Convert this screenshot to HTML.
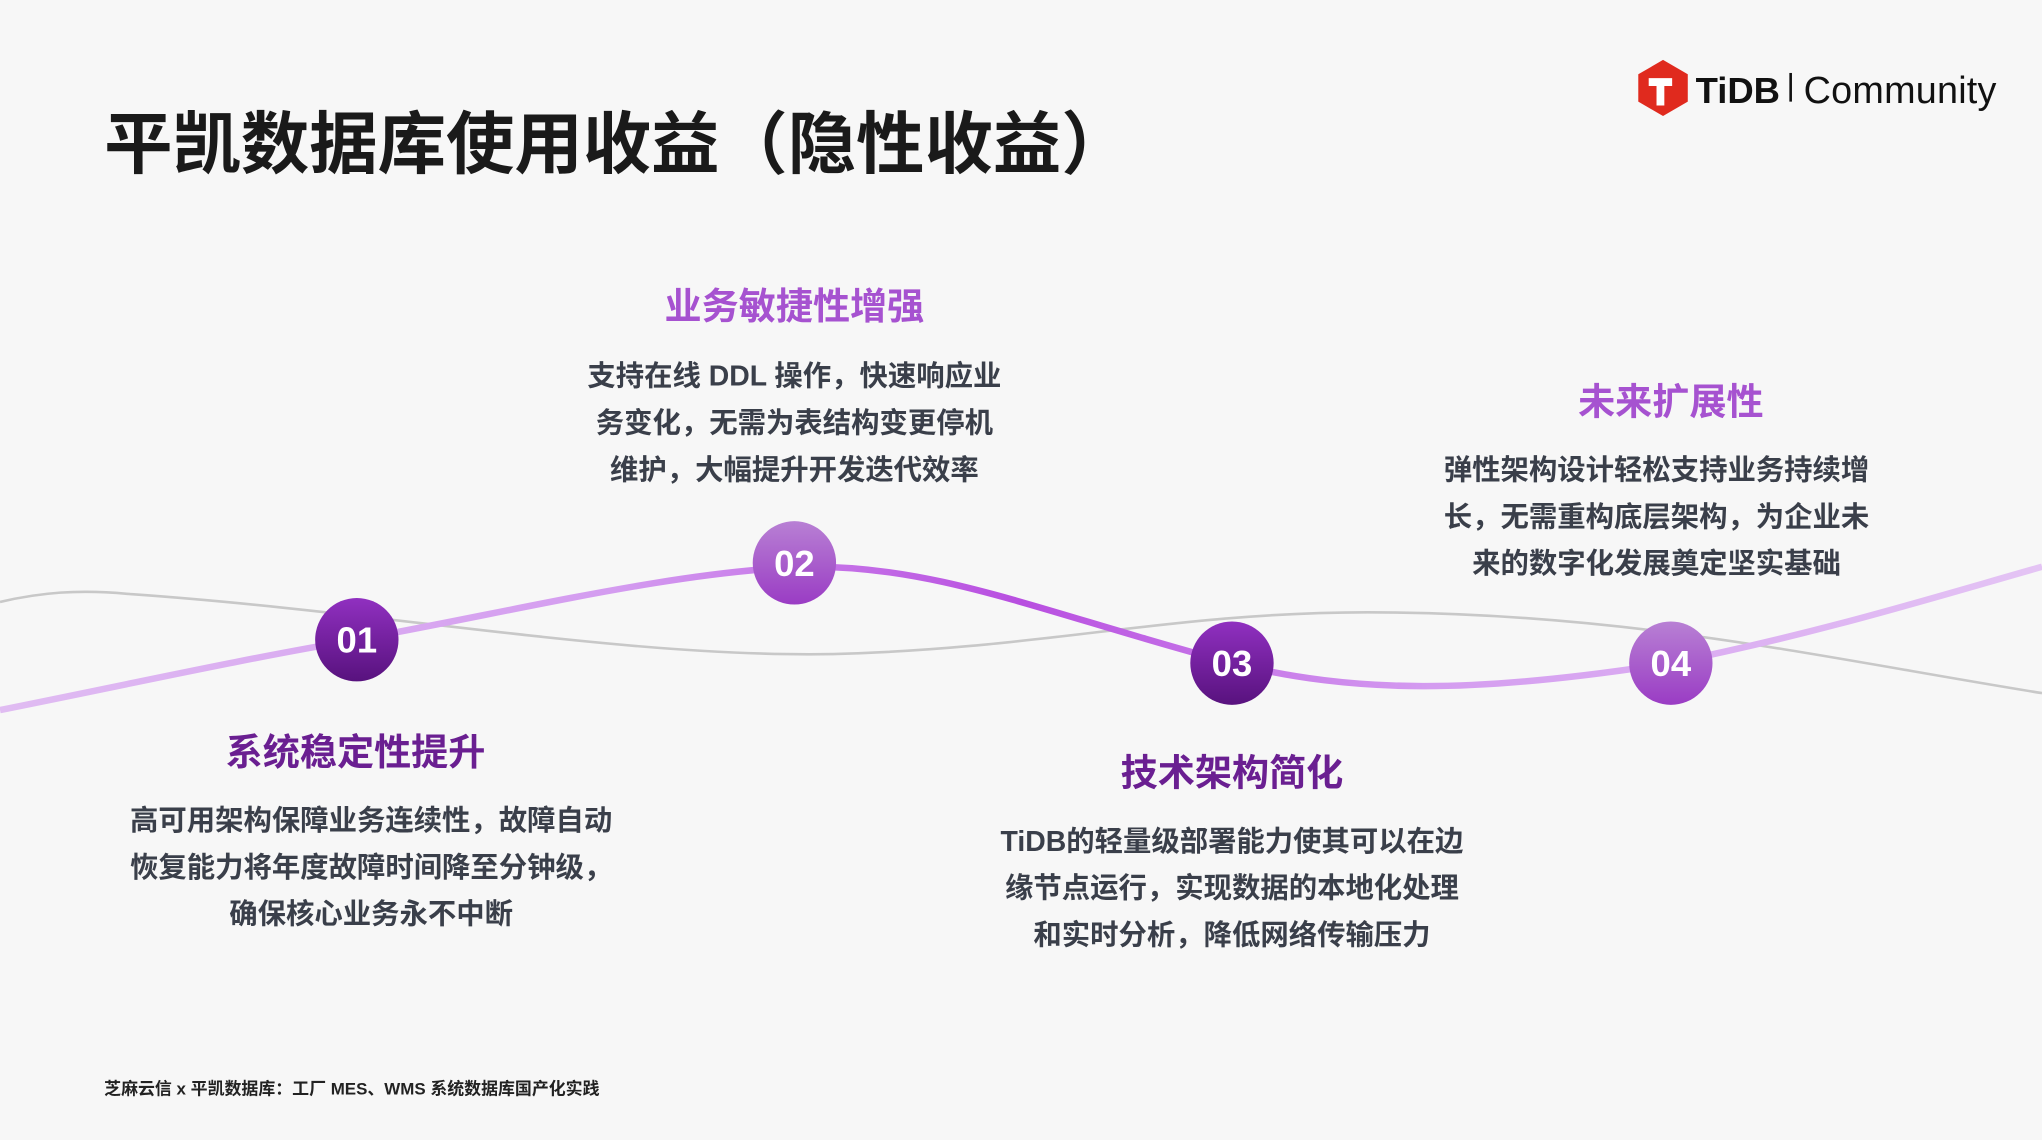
<!DOCTYPE html>
<html><head><meta charset="utf-8"><style>
html,body{margin:0;padding:0;background:#f7f7f7;}
svg{display:block;}
text{font-family:"Liberation Sans","Noto Sans CJK SC",sans-serif;}
</style></head><body>
<svg width="2042" height="1140" viewBox="0 0 1568 875" preserveAspectRatio="none" xmlns="http://www.w3.org/2000/svg">
<defs>
<linearGradient id="wave" x1="0" y1="0" x2="1568" y2="0" gradientUnits="userSpaceOnUse">
<stop offset="0" stop-color="#e0bcf2"/>
<stop offset="0.3" stop-color="#d49cf0"/>
<stop offset="0.5" stop-color="#b84ee0"/>
<stop offset="0.7" stop-color="#d49cf0"/>
<stop offset="1" stop-color="#e4c4f4"/>
</linearGradient>
<linearGradient id="dark" x1="0" y1="0" x2="0" y2="1">
<stop offset="0" stop-color="#9030c0"/><stop offset="1" stop-color="#58127e"/>
</linearGradient>
<linearGradient id="light" x1="0" y1="0" x2="0" y2="1">
<stop offset="0" stop-color="#b880d4"/><stop offset="1" stop-color="#9a3cc4"/>
</linearGradient>
</defs>
<rect width="1568" height="875" fill="#f7f7f7"/>
<text x="80" y="129" font-size="52.5" font-weight="bold" fill="#1a1a1a">平凯数据库使用收益（隐性收益）</text>
<!-- logo -->
<polygon points="1277,46 1296,57 1296,78 1277,89 1258,78 1258,57" fill="#e02a1e"/>
<path d="M1266,60 h18 v6 h-6 v15 h-6 v-15 h-6z" fill="#fff"/>
<text x="1302" y="79" font-size="28" font-weight="bold" fill="#111">TiDB</text>
<rect x="1374" y="56" width="2" height="22" fill="#111"/>
<text x="1385" y="79" font-size="29" fill="#111" textLength="148">Community</text>
<!-- gray wave -->
<path d="M0,462 C30,455 60,452 100,456 C300,470 480,505 640,502 C800,498 900,470 1050,470 C1250,470 1400,505 1568,532" fill="none" stroke="#c8c8c8" stroke-width="2"/>
<!-- purple wave -->
<path d="M0,545 C100,525 190,505 274,491 C400,468 520,438 620,435 C720,434 800,470 946,509 C1040,532 1130,533 1283,509 C1400,485 1480,460 1568,435" fill="none" stroke="url(#wave)" stroke-width="5"/>
<g font-size="28" font-weight="bold" fill="#fff" text-anchor="middle">
<circle cx="274" cy="491" r="32" fill="url(#dark)"/><text x="274" y="501">01</text>
<circle cx="610" cy="432" r="32" fill="url(#light)"/><text x="610" y="442">02</text>
<circle cx="946" cy="509" r="32" fill="url(#dark)"/><text x="946" y="519">03</text>
<circle cx="1283" cy="509" r="32" fill="url(#light)"/><text x="1283" y="519">04</text>
</g>
<g text-anchor="middle" font-weight="bold">
<text x="610" y="245" font-size="28.5" fill="#a652d0">业务敏捷性增强</text>
<text x="1283" y="318" font-size="28.5" fill="#a652d0">未来扩展性</text>
<text x="273" y="587" font-size="28.5" fill="#6a1f91">系统稳定性提升</text>
<text x="946" y="603" font-size="28.5" fill="#6a1f91">技术架构简化</text>
</g>
<g text-anchor="middle" font-size="21.8" fill="#3a3f4a" font-weight="bold">
<text x="610" y="296">支持在线 DDL 操作，快速响应业</text>
<text x="610" y="332">务变化，无需为表结构变更停机</text>
<text x="610" y="368">维护，大幅提升开发迭代效率</text>
<text x="1272" y="368">弹性架构设计轻松支持业务持续增</text>
<text x="1272" y="404">长，无需重构底层架构，为企业未</text>
<text x="1272" y="440">来的数字化发展奠定坚实基础</text>
<text x="285" y="637">高可用架构保障业务连续性，故障自动</text>
<text x="285" y="673">恢复能力将年度故障时间降至分钟级，</text>
<text x="285" y="709">确保核心业务永不中断</text>
<text x="946" y="653">TiDB的轻量级部署能力使其可以在边</text>
<text x="946" y="689">缘节点运行，实现数据的本地化处理</text>
<text x="946" y="725">和实时分析，降低网络传输压力</text>
</g>
<text x="80" y="840" font-size="13" font-weight="bold" fill="#222">芝麻云信 x 平凯数据库：工厂 MES、WMS 系统数据库国产化实践</text>
</svg>
</body></html>
